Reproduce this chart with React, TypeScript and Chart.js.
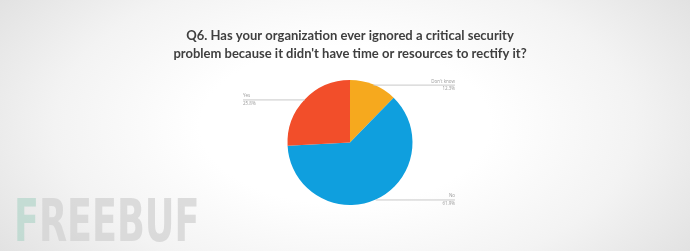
import React, { useEffect, useRef } from "react";
import { Chart, registerables } from "chart.js";

Chart.register(...registerables);

const categories = ["Don't know", "No", "Yes"];
const values = [12.3, 61.9, 25.8];
const colors = ["#F6A91E", "#0F9FDE", "#F24E2A"];
const titleLines = [
  "Q6. Has your organization ever ignored a critical security",
  "problem because it didn't have time or resources to rectify it?",
];

const leaderPlugin = {
  id: "leaders",
  afterDatasetsDraw(chart: any) {
    const ctx = chart.ctx;
    const meta = chart.getDatasetMeta(0);
    const total = values.reduce((a, b) => a + b, 0);
    meta.data.forEach((arc: any, i: number) => {
      const mid = (arc.startAngle + arc.endAngle) / 2;
      const r = arc.outerRadius;
      const px = arc.x + Math.cos(mid) * r;
      const py = arc.y + Math.sin(mid) * r;
      const right = px >= arc.x;
      const endX = right ? arc.x + 105 : arc.x - 107;
      ctx.save();
      ctx.strokeStyle = "#c8c8c8";
      ctx.lineWidth = 1;
      ctx.beginPath();
      ctx.moveTo(px, py + 0.5);
      ctx.lineTo(endX, py + 0.5);
      ctx.stroke();
      ctx.fillStyle = "#9a9a9a";
      ctx.font = "4.5px 'Open Sans', sans-serif";
      ctx.textAlign = right ? "right" : "left";
      ctx.textBaseline = "bottom";
      ctx.fillText(categories[i], endX, py - 1);
      ctx.textBaseline = "top";
      ctx.fillText(((values[i] / total) * 100).toFixed(1) + "%", endX, py + 2);
      ctx.restore();
    });
  },
};

export default function App() {
  const ref = useRef<HTMLCanvasElement>(null);
  useEffect(() => {
    const chart = new Chart(ref.current!, {
      type: "pie",
      data: {
        labels: categories,
        datasets: [
          {
            data: values,
            backgroundColor: colors,
            borderWidth: 0,
          },
        ],
      },
      options: {
        animation: false,
        responsive: false,
        layout: { padding: { left: 110, right: 100, top: 0, bottom: 46 } },
        plugins: {
          legend: { display: false },
          tooltip: { enabled: false },
          title: {
            display: true,
            text: titleLines,
            color: "#3f3f3f",
            font: { family: "Lato, 'Open Sans', sans-serif", size: 13, weight: "bold", lineHeight: 1.45 },
            padding: { top: 26, bottom: 16.3 },
          },
        },
      },
      plugins: [leaderPlugin],
    });
    return () => chart.destroy();
  }, []);
  return (
    <div
      style={{
        position: "fixed",
        left: 0,
        top: 0,
        width: 690,
        height: 251,
        overflow: "hidden",
        background:
          "radial-gradient(ellipse 60% 90% at 50% 50%, #ffffff 35%, #f3f3f3 70%, #e2e2e2 100%)",
      }}
    >
      <div
        style={{
          position: "absolute",
          left: 14,
          top: 192,
          fontFamily: "'DejaVu Sans Condensed', 'Liberation Sans Narrow', sans-serif",
          fontWeight: "bold",
          fontSize: 58,
          lineHeight: "58px",
          color: "rgba(210,210,210,0.75)",
          transform: "scaleX(0.7)",
          transformOrigin: "left top",
          whiteSpace: "nowrap",
        }}
      >
        <span style={{ color: "rgba(175,212,200,0.65)" }}>F</span>REEBUF
      </div>
      <canvas ref={ref} width={690} height={251} style={{ position: "absolute", left: 0, top: 0 }} />
    </div>
  );
}
